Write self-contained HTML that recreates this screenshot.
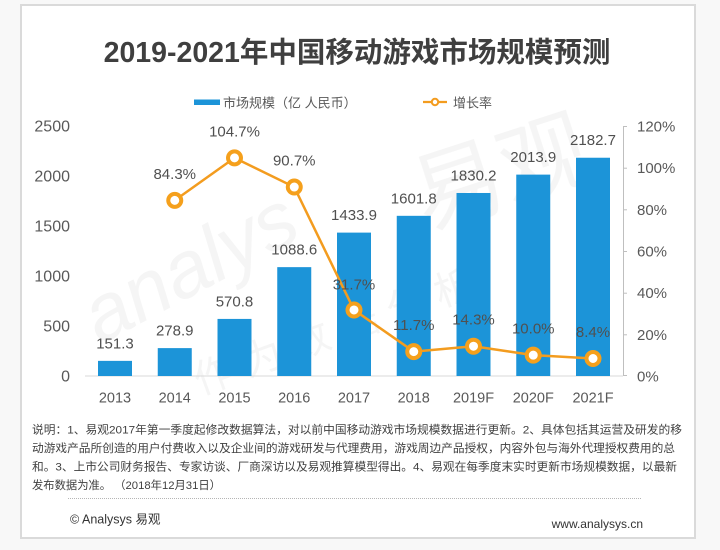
<!DOCTYPE html>
<html>
<head>
<meta charset="utf-8">
<style>
  html, body { margin:0; padding:0; background:#f8f8f8; }
  body { width:720px; height:550px; overflow:hidden; }
  svg { display:block; }
  text { font-family:"Liberation Sans","Noto Sans CJK SC",sans-serif; }
</style>
</head>
<body>
<svg width="720" height="550" viewBox="0 0 720 550" xmlns="http://www.w3.org/2000/svg">
  <!-- card -->
  <rect x="21" y="5" width="674" height="533" fill="#ffffff" stroke="#dadada" stroke-width="2"/>

  <!-- title -->
  <text x="357" y="62" text-anchor="middle" font-size="28.5" font-weight="bold" fill="#3f3f3f">2019-2021年中国移动游戏市场规模预测</text>

  <!-- legend -->
  <rect x="194" y="99.5" width="26" height="5.5" fill="#1c94d8"/>
  <text x="223" y="107.5" font-size="13" fill="#595959">市场规模（亿 人民币）</text>
  <line x1="423" y1="102" x2="447" y2="102" stroke="#f39c1f" stroke-width="2.2"/>
  <circle cx="435" cy="102" r="3.2" fill="#ffffff" stroke="#f39c1f" stroke-width="2"/>
  <text x="453" y="107.5" font-size="13" fill="#595959">增长率</text>

  <!-- watermark -->
  <g opacity="0.04" fill="#000">
    <text x="100" y="345" font-size="80" font-style="italic" transform="rotate(-28 100 345)">analys</text>
    <text x="425" y="230" font-size="90" transform="rotate(-18 425 230)">易观</text>
    <text x="200" y="395" font-size="40" transform="rotate(-20 200 395)">作 为 数 据 分 析</text>
  </g>

  <!-- baseline -->
  <line x1="85" y1="376" x2="623" y2="376" stroke="#d9d9d9" stroke-width="1"/>

  <!-- right axis -->
  <g stroke="#bfbfbf" stroke-width="1">
    <line x1="623.5" y1="126" x2="623.5" y2="376"/>
    <line x1="623" y1="126.5" x2="627" y2="126.5"/>
    <line x1="623" y1="168.2" x2="627" y2="168.2"/>
    <line x1="623" y1="209.8" x2="627" y2="209.8"/>
    <line x1="623" y1="251.5" x2="627" y2="251.5"/>
    <line x1="623" y1="293.2" x2="627" y2="293.2"/>
    <line x1="623" y1="334.8" x2="627" y2="334.8"/>
    <line x1="623" y1="375.5" x2="627" y2="375.5"/>
  </g>

  <!-- left axis labels -->
  <g font-size="16" fill="#595959" text-anchor="end">
    <text x="70" y="131.5">2500</text>
    <text x="70" y="181.5">2000</text>
    <text x="70" y="231.5">1500</text>
    <text x="70" y="281.5">1000</text>
    <text x="70" y="331.5">500</text>
    <text x="70" y="381.5">0</text>
  </g>

  <!-- right axis labels -->
  <g font-size="15" fill="#595959">
    <text x="637" y="131.5">120%</text>
    <text x="637" y="173.2">100%</text>
    <text x="637" y="214.8">80%</text>
    <text x="637" y="256.5">60%</text>
    <text x="637" y="298.2">40%</text>
    <text x="637" y="339.8">20%</text>
    <text x="637" y="381.5">0%</text>
  </g>

  <!-- bars -->
  <g fill="#1c94d8">
    <rect x="98" y="360.87" width="34" height="15.13"/>
    <rect x="157.75" y="348.11" width="34" height="27.89"/>
    <rect x="217.5" y="318.92" width="34" height="57.08"/>
    <rect x="277.25" y="267.14" width="34" height="108.86"/>
    <rect x="337" y="232.61" width="34" height="143.39"/>
    <rect x="396.75" y="215.82" width="34" height="160.18"/>
    <rect x="456.5" y="192.98" width="34" height="183.02"/>
    <rect x="516.25" y="174.61" width="34" height="201.39"/>
    <rect x="576" y="157.73" width="34" height="218.27"/>
  </g>

  <!-- bar labels -->
  <g font-size="15" fill="#505050" text-anchor="middle">
    <text x="115" y="348.4">151.3</text>
    <text x="174.75" y="335.6">278.9</text>
    <text x="234.5" y="306.4">570.8</text>
    <text x="294.25" y="254.6">1088.6</text>
    <text x="354" y="220.1">1433.9</text>
    <text x="413.75" y="203.3">1601.8</text>
    <text x="473.5" y="180.5">1830.2</text>
    <text x="533.25" y="162.1">2013.9</text>
    <text x="593" y="145.2">2182.7</text>
  </g>

  <!-- growth line -->
  <polyline fill="none" stroke="#f39c1f" stroke-width="2.5" stroke-linejoin="round"
    points="174.75,200.38 234.5,157.88 294.25,187.04 354,309.96 413.75,351.63 473.5,346.21 533.25,355.17 593,358.5"/>
  <g fill="#ffffff" stroke="#f5a01c" stroke-width="4">
    <circle cx="174.75" cy="200.38" r="6.5"/>
    <circle cx="234.5" cy="157.88" r="6.5"/>
    <circle cx="294.25" cy="187.04" r="6.5"/>
    <circle cx="354" cy="309.96" r="6.5"/>
    <circle cx="413.75" cy="351.63" r="6.5"/>
    <circle cx="473.5" cy="346.21" r="6.5"/>
    <circle cx="533.25" cy="355.17" r="6.5"/>
    <circle cx="593" cy="358.5" r="6.5"/>
  </g>

  <!-- growth labels -->
  <g font-size="15" fill="#505050" text-anchor="middle">
    <text x="174.75" y="178.9">84.3%</text>
    <text x="234.5" y="136.4">104.7%</text>
    <text x="294.25" y="165.5">90.7%</text>
    <text x="354" y="289.5">31.7%</text>
    <text x="413.75" y="330.1">11.7%</text>
    <text x="473.5" y="324.7">14.3%</text>
    <text x="533.25" y="333.7">10.0%</text>
    <text x="593" y="337">8.4%</text>
  </g>

  <!-- x labels -->
  <g font-size="14.5" fill="#595959" text-anchor="middle">
    <text x="115" y="402.5">2013</text>
    <text x="174.75" y="402.5">2014</text>
    <text x="234.5" y="402.5">2015</text>
    <text x="294.25" y="402.5">2016</text>
    <text x="354" y="402.5">2017</text>
    <text x="413.75" y="402.5">2018</text>
    <text x="473.5" y="402.5">2019F</text>
    <text x="533.25" y="402.5">2020F</text>
    <text x="593" y="402.5">2021F</text>
  </g>

  <!-- footnote -->
  <g font-size="11.3" fill="#404040">
    <text x="32" y="433.5" textLength="650" lengthAdjust="spacingAndGlyphs">说明：1、易观2017年第一季度起修改数据算法，对以前中国移动游戏市场规模数据进行更新。2、具体包括其运营及研发的移</text>
    <text x="32" y="452" textLength="643" lengthAdjust="spacingAndGlyphs">动游戏产品所创造的用户付费收入以及企业间的游戏研发与代理费用，游戏周边产品授权，内容外包与海外代理授权费用的总</text>
    <text x="32" y="470.5" textLength="645" lengthAdjust="spacingAndGlyphs">和。3、上市公司财务报告、专家访谈、厂商深访以及易观推算模型得出。4、易观在每季度末实时更新市场规模数据，以最新</text>
    <text x="32" y="489">发布数据为准。 （2018年12月31日）</text>
  </g>

  <line x1="68" y1="498.5" x2="642" y2="498.5" stroke="#b5b5b5" stroke-width="1" stroke-dasharray="1,1"/>

  <text x="70" y="523.5" font-size="12.5" fill="#333333">© Analysys 易观</text>
  <text x="643" y="528" font-size="12" fill="#333333" text-anchor="end">www.analysys.cn</text>
</svg>
</body>
</html>
